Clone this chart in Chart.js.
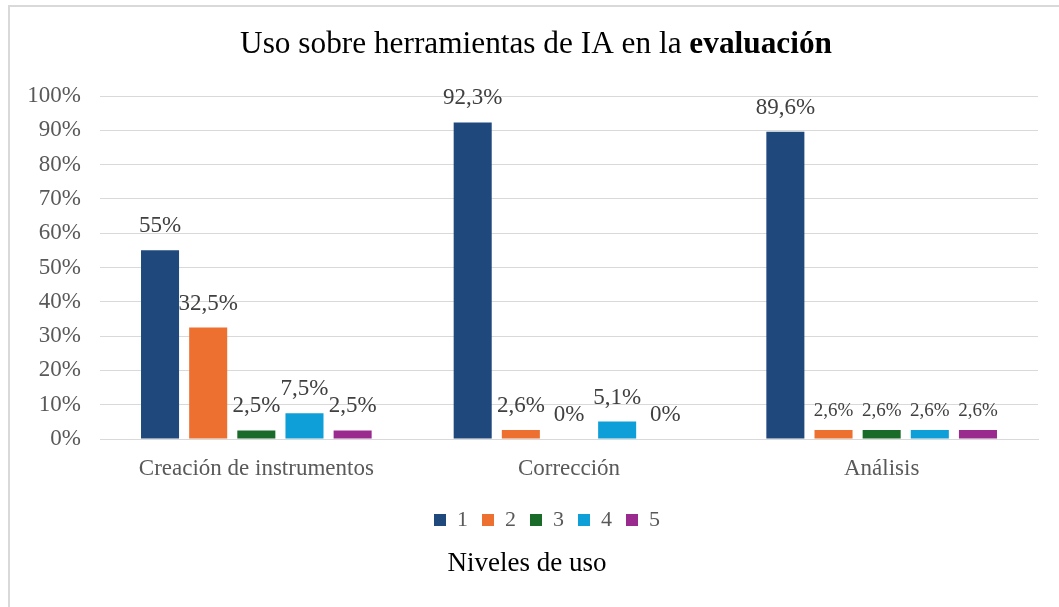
<!DOCTYPE html>
<html>
<head>
<meta charset="utf-8">
<script src="https://cdn.jsdelivr.net/npm/chart.js@4"></script>
<style>
    body { margin: 0; background: #fff; }
    #wrap { position: relative; width: 1059px; height: 607px; }
    #frame { position: absolute; left: 8px; top: 5px; width: 1060px; height: 610px; border: 2px solid #d9d9d9; box-sizing: border-box; pointer-events: none; }
</style>
</head>
<body>
<div id="wrap">
    <canvas id="chart" width="1059" height="607"></canvas>
    <div id="frame"></div>
</div>
<script>
const categories = ['Creación de instrumentos', 'Corrección', 'Análisis'];
const levels = ['1', '2', '3', '4', '5'];
const nivel1 = [55, 92.3, 89.6];
const nivel2 = [32.5, 2.6, 2.6];
const nivel3 = [2.5, 0, 2.6];
const nivel4 = [7.5, 5.1, 2.6];
const nivel5 = [2.5, 0, 2.6];
const yTicks = [0, 10, 20, 30, 40, 50, 60, 70, 80, 90, 100];

const colors = ['#1f497d', '#ed7031', '#1a6b29', '#0e9fd8', '#9b2a8f'];
const serif = "'Liberation Serif', 'Times New Roman', serif";

const titlePlugin = {
    id: 'titleAndAxisName',
    afterLayout(chart) {
        // the legend in the original sits a little right of centre
        chart.legend.left += 18;
        chart.legend.right += 18;
    },
    afterDraw(chart) {
        const ctx = chart.ctx;
        ctx.save();
        ctx.fillStyle = '#000';
        ctx.textBaseline = 'middle';
        const normalPart = 'Uso sobre herramientas de IA en la ';
        const boldPart = 'evaluación';
        ctx.font = '31.3px ' + serif;
        const w1 = ctx.measureText(normalPart).width;
        ctx.font = 'bold 31.3px ' + serif;
        const w2 = ctx.measureText(boldPart).width;
        let x = 536 - (w1 + w2) / 2;
        ctx.textAlign = 'left';
        ctx.font = '31.3px ' + serif;
        ctx.fillText(normalPart, x, 45);
        ctx.font = 'bold 31.3px ' + serif;
        ctx.fillText(boldPart, x + w1, 45);

        ctx.font = '27px ' + serif;
        ctx.textAlign = 'center';
        ctx.fillText('Niveles de uso', 527, 564);
        ctx.restore();
    }
};

const valueLabels = {
    id: 'valueLabels',
    afterDatasetsDraw(chart) {
        const ctx = chart.ctx;
        ctx.save();
        ctx.fillStyle = '#404040';
        ctx.textAlign = 'center';
        ctx.textBaseline = 'middle';
        chart.data.datasets.forEach((ds, i) => {
            const meta = chart.getDatasetMeta(i);
            meta.data.forEach((bar, j) => {
                const small = j === 2 && i > 0;
                ctx.font = (small ? '19px ' : '23px ') + serif;
                const txt = String(ds.data[j]).replace('.', ',') + '%';
                ctx.fillText(txt, bar.x, bar.y - (small ? 19 : 24));
            });
        });
        ctx.restore();
    }
};

const series = [nivel1, nivel2, nivel3, nivel4, nivel5];

new Chart(document.getElementById('chart').getContext('2d'), {
    type: 'bar',
    data: {
        labels: categories,
        datasets: series.map((d, i) => ({
            label: levels[i],
            data: d,
            backgroundColor: colors[i],
            categoryPercentage: 0.77,
            barPercentage: 0.79
        }))
    },
    options: {
        responsive: false,
        animation: false,
        layout: { padding: { left: 20, top: 96, right: 21, bottom: 66 } },
        plugins: {
            title: { display: false },
            tooltip: { enabled: false },
            legend: {
                position: 'bottom',
                labels: {
                    boxWidth: 12,
                    boxHeight: 12,
                    padding: 14,
                    color: '#595959',
                    font: { family: serif, size: 22 }
                }
            }
        },
        scales: {
            x: {
                grid: { display: false, drawTicks: false },
                border: { display: true, color: '#d9d9d9', width: 1 },
                ticks: { color: '#595959', padding: 16, font: { family: serif, size: 23 } },
                afterFit(scale) { scale.height = 56; }
            },
            y: {
                min: 0,
                max: 100,
                afterBuildTicks(scale) { scale.ticks = yTicks.map(v => ({ value: v })); },
                grid: { color: '#d9d9d9', drawTicks: false },
                border: { display: false },
                ticks: {
                    color: '#595959',
                    padding: 19,
                    font: { family: serif, size: 23 },
                    callback: v => v + '%'
                },
                afterFit(scale) { scale.width = 80; }
            }
        }
    },
    plugins: [valueLabels, titlePlugin]
});
</script>
</body>
</html>
